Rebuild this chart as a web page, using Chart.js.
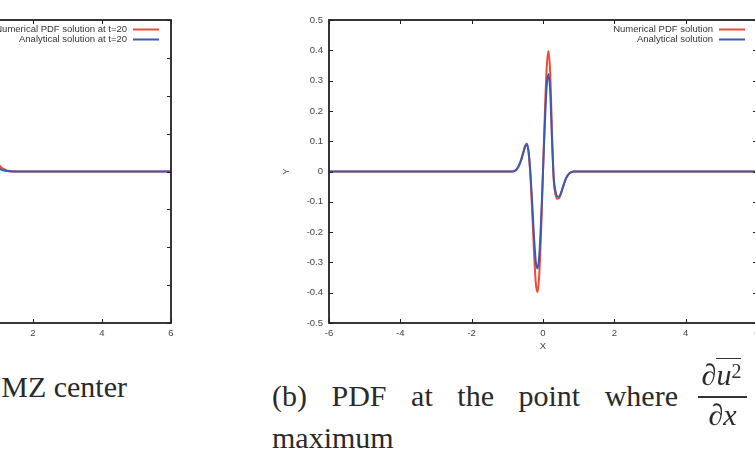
<!DOCTYPE html>
<html>
<head>
<meta charset="utf-8">
<script src="https://cdn.jsdelivr.net/npm/chart.js@4/dist/chart.umd.min.js"></script>
<style>
  html, body { margin: 0; padding: 0; background: #fff; }
  body { width: 755px; height: 465px; overflow: hidden; position: relative; }
  canvas { position: absolute; top: 0; }
  #chartLeft { left: -302px; }
  #chartRight { left: 270px; }
  .cap { position: absolute; font-family: "Liberation Serif", "DejaVu Serif", serif; font-size: 30px;
         line-height: 30px; color: #2a2a2a; white-space: nowrap; }
  .justify { text-align: justify; text-align-last: justify; }
  .bar { position: absolute; background: #333; height: 1.5px; }
  .ol { display: inline-block; border-top: 1.5px solid #333; line-height: 32px; }
  .sup { font-size: 20px; line-height: 0; vertical-align: 7px; }
</style>
</head>
<body>
<canvas id="chartLeft" width="483" height="360"></canvas>
<canvas id="chartRight" width="520" height="360"></canvas>

<div class="cap" style="right:628px; top:372px;">MZ center</div>
<div class="cap justify" style="left:272px; top:381px; width:406px;">(b) PDF at the point where</div>
<div class="cap" style="left:272px; top:423px;">maximum</div>
<div class="cap" style="left:696px; top:358px; width:51px; text-align:center;">∂<span class="ol"><i>u</i><span class="sup">2</span></span></div>
<div class="bar" style="left:698px; top:396px; width:49px;"></div>
<div class="cap" style="left:698px; top:400px; width:49px; text-align:center;">∂<i>x</i></div>

<script>
'use strict';

// right panel: PDF where d(u^2)/dx is maximum
const xRight = [-6, -1, -0.9, -0.85, -0.8, -0.75, -0.7, -0.65, -0.6, -0.55, -0.5, -0.45, -0.4, -0.35,
  -0.3, -0.25, -0.2, -0.15, -0.1, -0.05, 0, 0.05, 0.1, 0.15, 0.2, 0.25, 0.3, 0.35, 0.4, 0.45,
  0.5, 0.55, 0.6, 0.65, 0.7, 0.75, 0.8, 0.85, 0.9, 1, 6];
const numRight = [0, 0, 0, 0, 0.002, 0.006, 0.014, 0.027, 0.044, 0.065, 0.085, 0.092, 0.06, -0.02,
  -0.14, -0.27, -0.37, -0.398, -0.33, -0.185, 0, 0.185, 0.335, 0.398, 0.33, 0.14, -0.025, -0.075, -0.09, -0.088,
  -0.074, -0.055, -0.036, -0.021, -0.011, -0.005, -0.002, 0, 0, 0, 0];
const anaRight = [0, 0, 0, 0, 0.002, 0.006, 0.014, 0.026, 0.042, 0.062, 0.082, 0.09, 0.06, -0.01,
  -0.11, -0.22, -0.3, -0.32, -0.27, -0.15, 0, 0.15, 0.275, 0.322, 0.27, 0.11, -0.02, -0.065, -0.082, -0.083,
  -0.072, -0.055, -0.037, -0.022, -0.012, -0.005, -0.002, 0, 0, 0, 0];

// left panel: PDF at the MZ center (only its right tail is in view)
const xLeft = [-6, -1.5, -1.2, -1, -0.5, 0, 0.5, 1, 1.2, 1.5, 6];
const numLeft = [0, 0, 0.004, 0.02, 0.15, 0.25, 0.15, 0.02, 0.004, 0, 0];
const anaLeft = [0, 0, 0.002, 0.012, 0.14, 0.24, 0.14, 0.012, 0.002, 0, 0];

const RED = '#ee4a36';
const BLUE = '#3a5bb2';
const INK = '#222';
const TICK_FONT = { family: 'Liberation Sans, Arial, sans-serif', size: 9.5 };

const pairs = (xs, ys) => xs.map((x, i) => ({ x, y: ys[i] }));

// gnuplot look: closed frame, inward ticks on all sides, legend text left of its sample
const gnuFrame = {
  id: 'gnuFrame',
  afterDatasetsDraw(chart) {
    const { ctx, chartArea: a, scales: { x, y } } = chart;
    ctx.save();
    ctx.strokeStyle = INK;
    ctx.lineWidth = 1;
    ctx.beginPath();
    x.ticks.forEach(t => {
      const px = Math.round(x.getPixelForValue(t.value)) + 0.5;
      ctx.moveTo(px, a.bottom); ctx.lineTo(px, a.bottom - 4);
      ctx.moveTo(px, a.top); ctx.lineTo(px, a.top + 4);
    });
    y.ticks.forEach(t => {
      const py = Math.round(y.getPixelForValue(t.value)) + 0.5;
      ctx.moveTo(a.left, py); ctx.lineTo(a.left + 4, py);
      ctx.moveTo(a.right, py); ctx.lineTo(a.right - 4, py);
    });
    ctx.stroke();
    ctx.lineWidth = 1.8;
    ctx.strokeRect(a.left, a.top, a.width, a.height);

    ctx.font = '9.5px ' + TICK_FONT.family;
    ctx.textAlign = 'right';
    ctx.textBaseline = 'middle';
    const legendItems = chart.data.datasets.slice().sort((p, q) => p.legendIndex - q.legendIndex);
    legendItems.forEach((ds, i) => {
      const ly = a.top + 9.5 + i * 10;
      ctx.fillStyle = '#333';
      ctx.fillText(ds.label, a.right - 44, ly);
      ctx.strokeStyle = ds.borderColor;
      ctx.lineWidth = 2;
      ctx.beginPath();
      ctx.moveTo(a.right - 38, ly);
      ctx.lineTo(a.right - 12, ly);
      ctx.stroke();
    });
    ctx.restore();
  }
};

function makePanel(canvasId, xs, num, ana, yMin, yMax, suffix) {
  return new Chart(document.getElementById(canvasId), {
    type: 'line',
    data: {
      datasets: [
        {
          label: 'Analytical solution' + suffix, legendIndex: 1, order: 0,
          data: pairs(xs, ana), borderColor: BLUE, borderWidth: 2,
          pointRadius: 0, cubicInterpolationMode: 'monotone',
        },
        {
          label: 'Numerical PDF solution' + suffix, legendIndex: 0, order: 1,
          data: pairs(xs, num), borderColor: RED, borderWidth: 2,
          pointRadius: 0, cubicInterpolationMode: 'monotone',
        },
      ],
    },
    options: {
      responsive: false,
      animation: false,
      devicePixelRatio: 1,
      layout: { padding: { top: 20, right: canvasId === 'chartRight' ? 33 : 10, left: 0, bottom: 0 } },
      plugins: { legend: { display: false }, tooltip: { enabled: false } },
      scales: {
        x: {
          type: 'linear', min: -6, max: 6,
          ticks: { stepSize: 2, color: '#444', font: TICK_FONT, padding: 5 },
          grid: { display: false, drawTicks: false },
          border: { display: false },
          title: { display: true, text: 'X', color: '#444', font: TICK_FONT, padding: { top: 0, bottom: 8 } },
          afterFit: s => { s.height = 37; },
        },
        y: {
          min: yMin, max: yMax,
          ticks: { stepSize: 0.1, color: '#444', font: TICK_FONT, padding: 6,
                   callback: v => String(+v.toFixed(1)) },
          grid: { display: false, drawTicks: false },
          border: { display: false },
          title: { display: true, text: 'Y', color: '#444', font: TICK_FONT, padding: { top: 11, bottom: 0 } },
          afterFit: s => { s.width = 59; },
        },
      },
    },
    plugins: [gnuFrame],
  });
}

makePanel('chartLeft', xLeft, numLeft, anaLeft, -0.4, 0.4, ' at t=20');
makePanel('chartRight', xRight, numRight, anaRight, -0.5, 0.5, '');
</script>
</body>
</html>
